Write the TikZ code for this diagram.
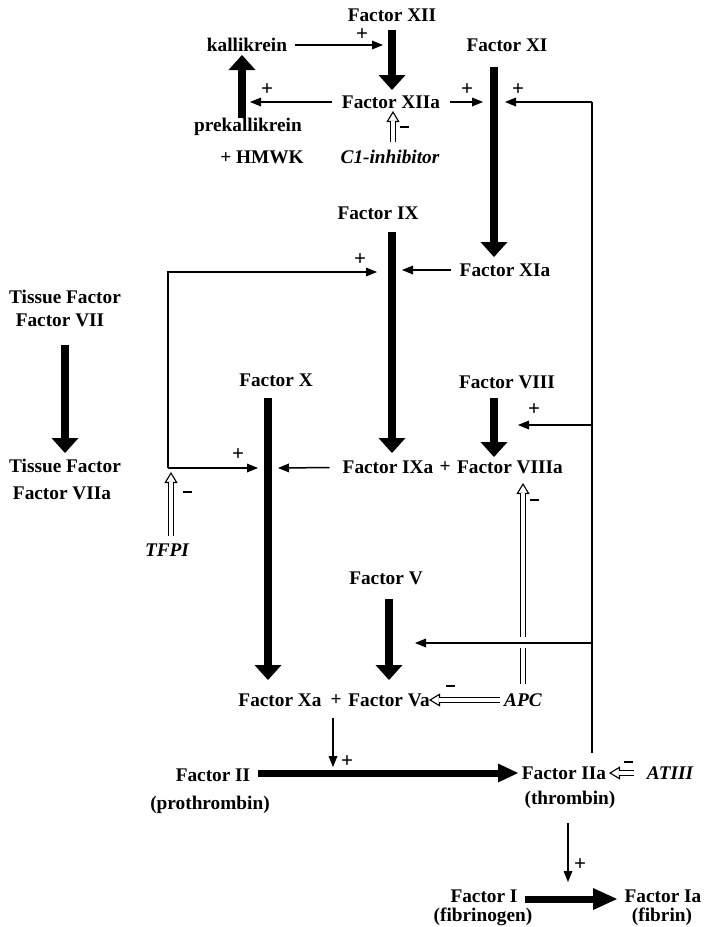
\documentclass[tikz,border=0pt]{standalone}
\usepackage{fontspec}
\setmainfont{Liberation Serif}
\usetikzlibrary{arrows.meta,calc}
\begin{document}
\begin{tikzpicture}[x=1pt,y=-1pt,
  lbl/.style={font=\fontsize{19.3}{22}\selectfont\bfseries, inner sep=0pt},
  ilbl/.style={font=\fontsize{19.3}{22}\selectfont\bfseries\itshape, inner sep=0pt},
  pm/.style={font=\fontsize{21}{21}\selectfont\bfseries, inner sep=0pt},
  mn/.style={fill=black, minimum width=9pt, minimum height=2.4pt, inner sep=0pt},
  big/.style={line width=8pt, -{Triangle[width=27pt,length=15pt,line width=0pt]}},
  bigh/.style={line width=7pt, -{Triangle[width=19pt,length=20pt,line width=0pt]}},
  bigh2/.style={line width=7pt, -{Triangle[width=22pt,length=24pt,line width=0pt]}},
  thin/.style={line width=1.5pt, -{Triangle[width=9pt,length=11pt,line width=0pt]}},
  fb/.style={line width=1.5pt},
  ohead/.style={line width=1.1pt, -{Triangle[open,width=13pt,length=11pt,line width=1.1pt]}},
  dbl/.style={double, double distance=3.2pt, line width=1pt, shorten >=10pt},
]
\useasboundingbox (0,0) rectangle (705,927);

% ---------- labels ----------
\node[lbl] (f12) at (392,15) {Factor XII};
\node[lbl] (kal) at (247,45) {kallikrein};
\node[lbl] (f11) at (507,45) {Factor XI};
\node[lbl] (f12a) at (391,102) {Factor XIIa};
\node[lbl] (prek) at (248,127) {prekallikrein};
\node[lbl] (hmwk) at (262,157) {+ HMWK};
\node[ilbl] (c1) at (390,157) {C1-inhibitor};
\node[lbl] (f9) at (378,213) {Factor IX};
\node[lbl] (f11a) at (505,270) {Factor XIa};
\node[lbl] (tf1) at (65,297) {Tissue Factor};
\node[lbl] (f7) at (60,320) {Factor VII};
\node[lbl] (tf2) at (65,466) {Tissue Factor};
\node[lbl] (f7a) at (62,493) {Factor VIIa};
\node[lbl] (f10) at (276,380) {Factor X};
\node[lbl] (f8) at (507,382) {Factor VIII};
\node[lbl] (f9a) at (388,467) {Factor IXa};
\node[lbl] (pl1) at (445,467) {+};
\node[lbl] (f8a) at (510,467) {Factor VIIIa};
\node[ilbl] (tfpi) at (167,550) {TFPI};
\node[lbl] (f5) at (386,578) {Factor V};
\node[lbl] (f10a) at (280,700) {Factor Xa};
\node[lbl] (pl2) at (336,700) {+};
\node[lbl] (f5a) at (389,700) {Factor Va};
\node[ilbl] (apc) at (523,700) {APC};
\node[lbl] (f2) at (213,775) {Factor II};
\node[lbl] (pro) at (210,805) {(prothrombin)};
\node[lbl] (f2a) at (564,773) {Factor IIa};
\node[lbl] (thr) at (570,800) {(thrombin)};
\node[ilbl] (at3) at (670,773) {ATIII};
\node[lbl] (f1) at (484,896) {Factor I};
\node[lbl] (fibg) at (483,917) {(fibrinogen)};
\node[lbl] (f1a) at (663,896) {Factor Ia};
\node[lbl] (fib) at (662,917) {(fibrin)};

% ---------- coordinates ----------
\coordinate (b12s) at (392,30);  \coordinate (b12e) at (392,90);
\coordinate (bks) at (242,118);  \coordinate (bke) at (242,55);
\coordinate (b11s) at (494,67);  \coordinate (b11e) at (494,257);
\coordinate (b9s) at (392,232);  \coordinate (b9e) at (392,453);
\coordinate (b7s) at (65,345);   \coordinate (b7e) at (65,453);
\coordinate (b10s) at (268,398); \coordinate (b10e) at (268,680);
\coordinate (b8s) at (494,398);  \coordinate (b8e) at (494,457);
\coordinate (b5s) at (389,599);  \coordinate (b5e) at (389,680);
\coordinate (b2s) at (258,773);  \coordinate (b2e) at (518,773);
\coordinate (b1s) at (525,899);  \coordinate (b1e) at (617,899);

\coordinate (k2) at (383,45);
\coordinate (pk) at (250,102);
\coordinate (x11a) at (483,102);
\coordinate (fbTop) at (592,102);
\coordinate (x11b) at (505,102);
\coordinate (x9) at (402,270);
\coordinate (lc) at (168,468);
\coordinate (l9) at (377,272);
\coordinate (l10) at (258,468);
\coordinate (x10) at (278,468);
\coordinate (fb8) at (592,425);  \coordinate (x8) at (518,425);
\coordinate (fb5) at (592,643);  \coordinate (x5) at (415,643);
\coordinate (fbBot) at (592,753);
\coordinate (xa1) at (333,718);  \coordinate (xa2) at (333,767);
\coordinate (th1) at (568,823);  \coordinate (th2) at (568,882);

\coordinate (c1s) at (393,142);  \coordinate (c1e) at (393,111);
\coordinate (tps) at (171,536);  \coordinate (tpe) at (171,472);
\coordinate (aps) at (523,684);  \coordinate (ape) at (523,483);
\coordinate (avs) at (500,700);  \coordinate (ave) at (429,700);
\coordinate (ats) at (634,773);  \coordinate (ate) at (609,773);

% ---------- thick conversion arrows ----------
\draw[big] (b12s) -- (b12e);
\draw[big] (bks) -- (bke);
\draw[big] (b11s) -- (b11e);
\draw[big] (b9s) -- (b9e);
\draw[big] (b7s) -- (b7e);
\draw[big] (b10s) -- (b10e);
\draw[big] (b8s) -- (b8e);
\draw[big] (b5s) -- (b5e);
\draw[bigh] (b2s) -- (b2e);
\draw[bigh2] (b1s) -- (b1e);

% ---------- inhibitors ----------
\draw[ohead] (c1s) -- (c1e);  \draw[dbl] (c1s) -- (c1e);
\draw[ohead] (tps) -- (tpe);  \draw[dbl] (tps) -- (tpe);
\draw[ohead] (aps) -- (ape);  \draw[dbl] (aps) -- (ape);
\draw[ohead] (avs) -- (ave);  \draw[dbl] (avs) -- (ave);
\draw[ohead] (ats) -- (ate);  \draw[dbl] (ats) -- (ate);
\fill[white] (516,637) rectangle (530,648);

% ---------- activating arrows ----------
\draw[thin, shorten <=8pt] (kal) -- (k2);
\draw[thin, shorten <=10pt] (f12a) -- (pk);
\draw[thin, shorten <=10pt] (f12a) -- (x11a);
\draw[fb] (fbTop) -- (fbBot);
\draw[thin] (fbTop) -- (x11b);
\draw[thin, shorten <=9pt] (f11a) -- (x9);
\draw[thin] (lc) |- (l9);
\draw[thin] (lc) -- (l10);
\draw[thin, shorten <=13pt] (f9a) -- (x10);
\draw[thin] (fb8) -- (x8);
\draw[thin] (fb5) -- (x5);
\draw[thin] (xa1) -- (xa2);
\draw[thin] (th1) -- (th2);

% ---------- signs ----------
\node[pm] (p1) at (362,35) {+};
\node[pm] (p2) at (267,90) {+};
\node[pm] (p3) at (467,90) {+};
\node[pm] (p4) at (518,90) {+};
\node[pm] (p5) at (360,260) {+};
\node[pm] (p6) at (238,455) {+};
\node[pm] (p7) at (534,410) {+};
\node[pm] (p8) at (347,762) {+};
\node[pm] (p9) at (580,865) {+};
\node[mn] (m1) at (404,127) {};
\node[mn] (m2) at (187,492) {};
\node[mn] (m3) at (534,500) {};
\node[mn] (m4) at (450,686) {};
\node[mn] (m5) at (628,762) {};
\end{tikzpicture}
\end{document}
